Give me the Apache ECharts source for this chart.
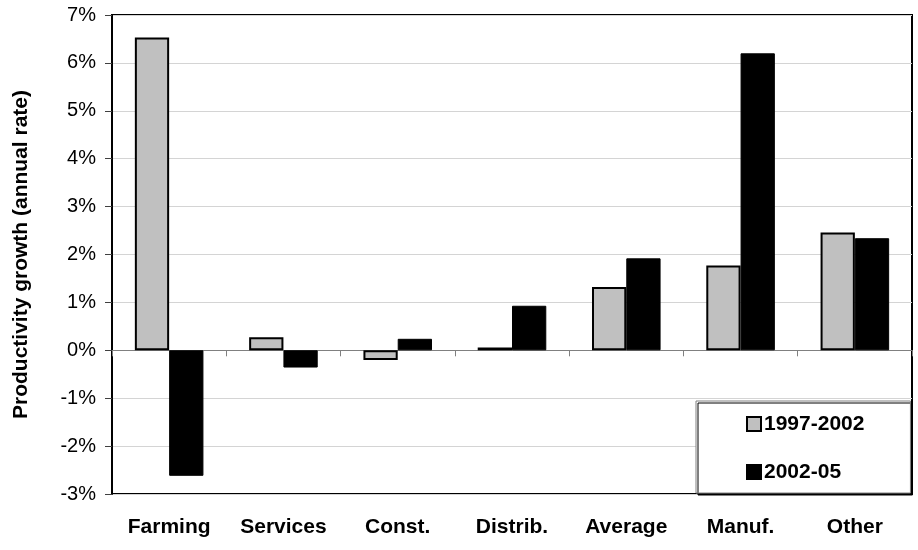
<!DOCTYPE html>
<html>
<head>
<meta charset="utf-8">
<script src="https://cdn.jsdelivr.net/npm/echarts@6/dist/echarts.min.js"></script>
<style>
  html, body { margin: 0; padding: 0; background: #fff; }
  #chart { width: 918px; height: 550px; }
</style>
</head>
<body>
<div id="chart"></div>
<script>
// Sector productivity growth, annual rate (%)
const categories = ['Farming', 'Services', 'Const.', 'Distrib.', 'Average', 'Manuf.', 'Other'];
const period1Name = '1997-2002';
const period2Name = '2002-05';
const period1 = [6.53, 0.27, -0.2, 0.06, 1.32, 1.77, 2.46];
const period2 = [-2.62, -0.36, 0.24, 0.93, 1.92, 6.2, 2.34];
const yTicks = { min: -3, max: 7, step: 1 };

const font = 'Liberation Sans, Arial, sans-serif';
const chart = echarts.init(document.getElementById('chart'), null, { renderer: 'canvas' });

chart.setOption({
  backgroundColor: '#fff',
  animation: false,
  textStyle: { fontFamily: font },
  grid: {
    left: 112, right: 6, top: 15, bottom: 56,
    show: true, borderColor: '#000', borderWidth: 2, backgroundColor: 'transparent'
  },
  legend: {
    orient: 'vertical',
    left: 696, top: 401,
    padding: [12, 46, 10, 50],
    itemGap: 26,
    itemWidth: 14, itemHeight: 14,
    icon: 'rect',
    backgroundColor: '#fff',
    borderColor: '#808080', borderWidth: 1,
    shadowColor: '#000', shadowBlur: 0, shadowOffsetX: 2, shadowOffsetY: 2,
    textStyle: { fontFamily: font, fontWeight: 'bold', fontSize: 21, color: '#000', lineHeight: 22, padding: [0, 0, 0, -2] },
    data: [period1Name, period2Name]
  },
  xAxis: [
    {
      type: 'category',
      data: categories,
      position: 'bottom',
      axisLine: { show: false, onZero: false },
      axisTick: { show: false },
      axisLabel: { margin: 23, fontFamily: font, fontWeight: 'bold', fontSize: 21, color: '#000' },
      splitLine: { show: false }
    },
    {
      type: 'category',
      data: categories,
      position: 'bottom',
      axisLine: { show: true, onZero: true, lineStyle: { color: '#808080', width: 1 } },
      axisTick: { show: true, length: 6, lineStyle: { color: '#808080', width: 1 } },
      axisLabel: { show: false },
      splitLine: { show: false }
    }
  ],
  yAxis: {
    type: 'value',
    min: yTicks.min, max: yTicks.max, interval: yTicks.step,
    name: 'Productivity growth (annual rate)',
    nameLocation: 'middle',
    nameGap: 80,
    nameTextStyle: { fontFamily: font, fontWeight: 'bold', fontSize: 21, color: '#000' },
    axisLine: { show: true, lineStyle: { color: '#000', width: 2 } },
    axisTick: { show: true, length: 7, lineStyle: { color: '#404040', width: 1 } },
    axisLabel: { formatter: '{value}%', margin: 16, fontFamily: font, fontSize: 20, color: '#000' },
    splitLine: { show: true, lineStyle: { color: '#d4d4d4', width: 1 } }
  },
  series: [
    {
      name: period1Name,
      type: 'bar',
      data: period1,
      barGap: '0%',
      barCategoryGap: '40%',
      itemStyle: { color: '#c0c0c0', borderColor: '#000', borderWidth: 2 }
    },
    {
      name: period2Name,
      type: 'bar',
      data: period2,
      barGap: '0%',
      barCategoryGap: '40%',
      itemStyle: { color: '#000', borderColor: '#000', borderWidth: 1 }
    }
  ]
});
</script>
</body>
</html>
